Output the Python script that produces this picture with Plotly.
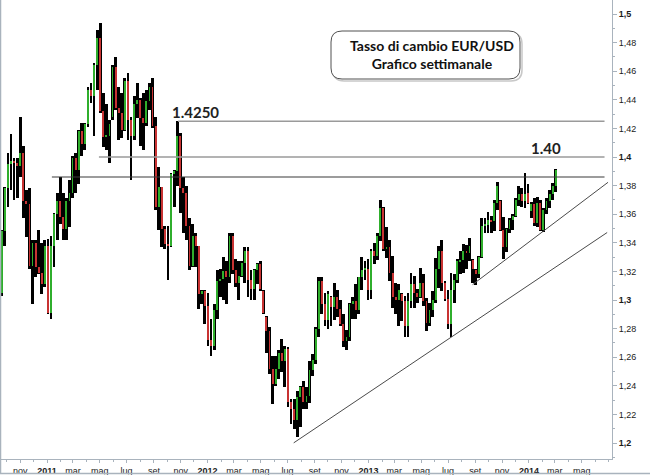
import numpy as np
import pandas as pd
import plotly.graph_objects as go

# ---------------- data: weekly EUR/USD bars -------------
first_week = "2010-09-20"

opens = [
    1.3050, 1.3480, 1.3780, 1.3950, 1.3970, 1.3960, 1.3940, 1.4030, 1.3690, 1.3670,
    1.3240, 1.3400, 1.3230, 1.3190, 1.3110, 1.3380, 1.2910, 1.3380, 1.3600, 1.3690,
    1.3580, 1.3500, 1.3690, 1.3750, 1.3990, 1.3910, 1.4180, 1.4090, 1.4230, 1.4470,
    1.4430, 1.4640, 1.4830, 1.4320, 1.4140, 1.4150, 1.4280, 1.4630, 1.4340, 1.4310,
    1.4190, 1.4530, 1.4260, 1.4150, 1.4370, 1.4400, 1.4270, 1.4240, 1.4390, 1.4490,
    1.4220, 1.3650, 1.3790, 1.3500, 1.3390, 1.3380, 1.3880, 1.3900, 1.4150, 1.3780,
    1.3750, 1.3520, 1.3240, 1.3450, 1.3380, 1.3040, 1.3060, 1.2960, 1.2720, 1.2680,
    1.2930, 1.3130, 1.3150, 1.3200, 1.3160, 1.3450, 1.3210, 1.3120, 1.3170, 1.3260,
    1.3340, 1.3140, 1.3080, 1.3210, 1.3250, 1.3060, 1.2880, 1.2780, 1.2520, 1.2410,
    1.2520, 1.2630, 1.2570, 1.2660, 1.2290, 1.2240, 1.2160, 1.2320, 1.2390, 1.2290,
    1.2330, 1.2510, 1.2580, 1.2800, 1.3130, 1.2970, 1.2860, 1.3020, 1.2950, 1.3020,
    1.2940, 1.2830, 1.2710, 1.2740, 1.2970, 1.2990, 1.2930, 1.3160, 1.3210, 1.3220,
    1.3070, 1.3340, 1.3310, 1.3450, 1.3640, 1.3360, 1.3370, 1.3190, 1.3020, 1.3000,
    1.3040, 1.2990, 1.2820, 1.2990, 1.3110, 1.3050, 1.3020, 1.3120, 1.2990, 1.2840,
    1.2930, 1.3000, 1.3220, 1.3340, 1.3120, 1.3010, 1.2830, 1.3070, 1.3140, 1.3270,
    1.3280, 1.3340, 1.3330, 1.3280, 1.3210, 1.3180, 1.3300, 1.3520, 1.3525, 1.3560,
    1.3550, 1.3680, 1.3690, 1.3490, 1.3370, 1.3500, 1.3560, 1.3590, 1.3700, 1.3740,
    1.3690, 1.3750, 1.3620, 1.3670, 1.3540, 1.3680, 1.3490, 1.3630, 1.3690, 1.3740,
    1.3800,
]
highs = [
    1.3490, 1.3790, 1.4030, 1.4160, 1.3990, 1.3990, 1.4280, 1.4080, 1.3770, 1.3780,
    1.3420, 1.3420, 1.3490, 1.3400, 1.3420, 1.3430, 1.3450, 1.3610, 1.3750, 1.3860,
    1.3750, 1.3710, 1.3840, 1.4010, 1.4030, 1.4190, 1.4240, 1.4240, 1.4490, 1.4520,
    1.4660, 1.4890, 1.4940, 1.4450, 1.4370, 1.4260, 1.4640, 1.4700, 1.4490, 1.4450,
    1.4550, 1.4590, 1.4280, 1.4430, 1.4520, 1.4410, 1.4450, 1.4470, 1.4520, 1.4550,
    1.4280, 1.3930, 1.3790, 1.3520, 1.3520, 1.3890, 1.3910, 1.4250, 1.4170, 1.3860,
    1.3800, 1.3570, 1.3530, 1.3470, 1.3380, 1.3070, 1.3070, 1.3050, 1.2870, 1.2970,
    1.3210, 1.3220, 1.3300, 1.3270, 1.3470, 1.3470, 1.3290, 1.3270, 1.3270, 1.3370,
    1.3370, 1.3210, 1.3220, 1.3260, 1.3270, 1.3070, 1.2890, 1.2810, 1.2610, 1.2610,
    1.2650, 1.2730, 1.2680, 1.2670, 1.2310, 1.2310, 1.2365, 1.2400, 1.2435, 1.2390,
    1.2575, 1.2620, 1.2810, 1.3160, 1.3160, 1.3050, 1.3060, 1.3030, 1.3120, 1.3070,
    1.3000, 1.2900, 1.2790, 1.2980, 1.3020, 1.3115, 1.3160, 1.3300, 1.3270, 1.3290,
    1.3360, 1.3400, 1.3470, 1.3700, 1.3648, 1.3510, 1.3420, 1.3310, 1.3120, 1.3110,
    1.3050, 1.3030, 1.3050, 1.3190, 1.3170, 1.3075, 1.3226, 1.3180, 1.3017, 1.2980,
    1.3060, 1.3297, 1.3380, 1.3420, 1.3130, 1.3070, 1.3190, 1.3180, 1.3290, 1.3340,
    1.3395, 1.3385, 1.3437, 1.3290, 1.3215, 1.3310, 1.3570, 1.3570, 1.3612, 1.3590,
    1.3697, 1.3823, 1.3697, 1.3577, 1.3505, 1.3570, 1.3600, 1.3710, 1.3800, 1.3780,
    1.3890, 1.3810, 1.3683, 1.3710, 1.3720, 1.3697, 1.3640, 1.3710, 1.3767, 1.3820,
    1.3914,
]
lows = [
    1.3030, 1.3380, 1.3650, 1.3770, 1.3700, 1.3710, 1.3860, 1.3570, 1.3440, 1.3220,
    1.2970, 1.3160, 1.3180, 1.3040, 1.3090, 1.2900, 1.2870, 1.3230, 1.3420, 1.3530,
    1.3420, 1.3420, 1.3510, 1.3710, 1.3750, 1.3810, 1.4010, 1.4050, 1.4210, 1.4380,
    1.4150, 1.4470, 1.4310, 1.4070, 1.4050, 1.3960, 1.4260, 1.4330, 1.4120, 1.4130,
    1.4180, 1.4120, 1.3840, 1.4120, 1.4270, 1.4080, 1.4050, 1.4220, 1.4330, 1.4200,
    1.3630, 1.3490, 1.3370, 1.3360, 1.3140, 1.3370, 1.3650, 1.3800, 1.3610, 1.3470,
    1.3420, 1.3210, 1.3230, 1.3230, 1.2940, 1.2970, 1.2830, 1.2680, 1.2610, 1.2650,
    1.2870, 1.3020, 1.3000, 1.2970, 1.3120, 1.3180, 1.3090, 1.3000, 1.3160, 1.3120,
    1.3020, 1.3000, 1.3000, 1.3110, 1.3060, 1.2900, 1.2630, 1.2480, 1.2270, 1.2400,
    1.2450, 1.2500, 1.2390, 1.2250, 1.2130, 1.2100, 1.2040, 1.2110, 1.2240, 1.2240,
    1.2280, 1.2470, 1.2550, 1.2740, 1.2900, 1.2820, 1.2800, 1.2820, 1.2860, 1.2880,
    1.2820, 1.2670, 1.2650, 1.2715, 1.2870, 1.2870, 1.2900, 1.3070, 1.3140, 1.3000,
    1.3010, 1.3255, 1.3280, 1.3416, 1.3346, 1.3297, 1.3136, 1.2947, 1.2905, 1.2820,
    1.2855, 1.2740, 1.2740, 1.2947, 1.2947, 1.2980, 1.3017, 1.2960, 1.2786, 1.2820,
    1.2880, 1.2980, 1.3087, 1.3060, 1.2990, 1.2800, 1.2740, 1.2980, 1.3120, 1.3180,
    1.3190, 1.3220, 1.3276, 1.3120, 1.3105, 1.3157, 1.3297, 1.3466, 1.3470, 1.3470,
    1.3486, 1.3626, 1.3480, 1.3290, 1.3335, 1.3470, 1.3490, 1.3580, 1.3660, 1.3650,
    1.3640, 1.3670, 1.3570, 1.3520, 1.3510, 1.3486, 1.3474, 1.3600, 1.3640, 1.3697,
    1.3753,
]
closes = [
    1.3480, 1.3780, 1.3950, 1.3970, 1.3960, 1.3940, 1.4030, 1.3690, 1.3670, 1.3240,
    1.3400, 1.3230, 1.3190, 1.3110, 1.3380, 1.2910, 1.3380, 1.3600, 1.3690, 1.3580,
    1.3500, 1.3690, 1.3750, 1.3990, 1.3910, 1.4180, 1.4090, 1.4230, 1.4470, 1.4430,
    1.4640, 1.4830, 1.4320, 1.4140, 1.4150, 1.4230, 1.4630, 1.4340, 1.4310, 1.4190,
    1.4530, 1.4260, 1.4150, 1.4370, 1.4400, 1.4270, 1.4240, 1.4390, 1.4490, 1.4220,
    1.3650, 1.3790, 1.3500, 1.3390, 1.3380, 1.3880, 1.3900, 1.4150, 1.3780, 1.3750,
    1.3520, 1.3240, 1.3450, 1.3380, 1.3040, 1.3060, 1.2960, 1.2720, 1.2680, 1.2930,
    1.3130, 1.3150, 1.3200, 1.3160, 1.3450, 1.3210, 1.3120, 1.3170, 1.3260, 1.3340,
    1.3140, 1.3080, 1.3210, 1.3250, 1.3080, 1.2910, 1.2780, 1.2520, 1.2410, 1.2520,
    1.2630, 1.2570, 1.2660, 1.2290, 1.2240, 1.2160, 1.2320, 1.2390, 1.2290, 1.2330,
    1.2510, 1.2580, 1.2800, 1.3130, 1.2970, 1.2860, 1.3040, 1.2950, 1.3020, 1.2940,
    1.2830, 1.2710, 1.2740, 1.2970, 1.2990, 1.2930, 1.3160, 1.3210, 1.3220, 1.3070,
    1.3340, 1.3310, 1.3450, 1.3640, 1.3360, 1.3370, 1.3190, 1.3020, 1.3000, 1.3070,
    1.2990, 1.2820, 1.2990, 1.3110, 1.3050, 1.3020, 1.3120, 1.2990, 1.2840, 1.2930,
    1.3000, 1.3220, 1.3340, 1.3120, 1.3010, 1.2830, 1.3070, 1.3140, 1.3270, 1.3280,
    1.3340, 1.3330, 1.3380, 1.3220, 1.3180, 1.3300, 1.3520, 1.3525, 1.3560, 1.3550,
    1.3680, 1.3800, 1.3490, 1.3370, 1.3500, 1.3560, 1.3590, 1.3700, 1.3740, 1.3690,
    1.3740, 1.3680, 1.3670, 1.3540, 1.3680, 1.3490, 1.3630, 1.3690, 1.3740, 1.3800,
    1.3910,
]

# analyst drawings
level_values = [1.4250, 1.4000, 1.3860]
level_starts = ["2011-10-26", "2011-04-29", "2011-01-12"]
level_end = "2014-06-22"
trend_low_dates = ["2012-07-15", "2014-06-28"]
trend_low_values = [1.2001, 1.3472]
trend_up_dates = ["2013-08-26", "2014-06-30"]
trend_up_values = [1.3108, 1.3823]

# axis labels
x_tick_dates = ["2010-11-01", "2011-01-01", "2011-03-01", "2011-05-01", "2011-07-01",
                "2011-09-01", "2011-11-01", "2012-01-01", "2012-03-01", "2012-05-01",
                "2012-07-01", "2012-09-01", "2012-11-01", "2013-01-01", "2013-03-01",
                "2013-05-01", "2013-07-01", "2013-09-01", "2013-11-01", "2014-01-01",
                "2014-03-01", "2014-05-01"]
x_tick_labels = ["nov", "<b>2011</b>", "mar", "mag", "lug", "set", "nov", "<b>2012</b>",
                 "mar", "mag", "lug", "set", "nov", "<b>2013</b>", "mar", "mag", "lug",
                 "set", "nov", "<b>2014</b>", "mar", "mag"]
y_tick_values = [1.20, 1.22, 1.24, 1.26, 1.28, 1.30, 1.32, 1.34, 1.36, 1.38,
                 1.40, 1.42, 1.44, 1.46, 1.48, 1.50]
y_tick_labels = ["<b>1,2</b>", "1,22", "1,24", "1,26", "1,28", "<b>1,3</b>", "1,32", "1,34",
                 "1,36", "1,38", "<b>1,4</b>", "1,42", "1,44", "1,46", "1,48", "<b>1,5</b>"]

# ---------------- figure ----------------
W, H = 650, 475
L, R, T, B = 0, 38, 0, 16
PW, PH = W - L - R, H - T - B

o = np.array(opens); h = np.array(highs); l = np.array(lows); c = np.array(closes)
dates = pd.date_range(first_week, periods=len(c), freq="7D")
DAY = 86400000

GREEN = "#2fae2c"
RED = "#c83333"
body_colors = [GREEN if cc >= oo else RED for oo, cc in zip(o, c)]

fig = go.Figure()
fig.add_trace(go.Bar(
    x=dates, y=h - l, base=l, width=6.4 * DAY,
    marker=dict(color="#000000", line=dict(width=0)),
    hoverinfo="skip", showlegend=False))
fig.add_trace(go.Bar(
    x=dates, y=np.maximum(np.abs(c - o), 0.0004), base=np.minimum(o, c), width=2.0 * DAY,
    marker=dict(color=body_colors, line=dict(width=0)),
    hoverinfo="skip", showlegend=False))

level_colors = ["#9a9a9a", "#9a9a9a", "#3a3a3a"]
level_widths = [1.6, 1.6, 1.1]
for v, s, col, wd in zip(level_values, level_starts, level_colors, level_widths):
    fig.add_trace(go.Scatter(x=[s, level_end], y=[v, v], mode="lines",
                             line=dict(color=col, width=wd), hoverinfo="skip",
                             showlegend=False))
for xs, ys in [(trend_low_dates, trend_low_values), (trend_up_dates, trend_up_values)]:
    fig.add_trace(go.Scatter(x=xs, y=ys, mode="lines",
                             line=dict(color="#4a4a4a", width=1), hoverinfo="skip",
                             showlegend=False))

# pixel -> paper helpers
def px(xp):
    return (xp - L) / PW

def py(yp):
    return 1 - (yp - T) / PH

def rounded_rect(x0, y0, x1, y1, r):
    rx, ry = r / PW, r / PH
    X0, X1, Y0, Y1 = px(x0), px(x1), py(y0), py(y1)
    return (f"M {X0+rx},{Y0} L {X1-rx},{Y0} Q {X1},{Y0} {X1},{Y0-ry} "
            f"L {X1},{Y1+ry} Q {X1},{Y1} {X1-rx},{Y1} L {X0+rx},{Y1} "
            f"Q {X0},{Y1} {X0},{Y1+ry} L {X0},{Y0-ry} Q {X0},{Y0} {X0+rx},{Y0} Z")

shapes = [
    dict(type="path", xref="paper", yref="paper", path=rounded_rect(333, 33, 522, 81, 11),
         line=dict(color="#c8c8c8", width=1.5), fillcolor="rgba(0,0,0,0)", layer="above"),
    dict(type="path", xref="paper", yref="paper", path=rounded_rect(331, 31, 520, 79, 11),
         line=dict(color="#505050", width=1), fillcolor="#ffffff", layer="above"),
    # outer frame (left and bottom)
    dict(type="line", xref="paper", yref="paper", x0=px(0.5), x1=px(0.5), y0=py(0), y1=py(474),
         line=dict(color="#a9b3bd", width=1.5)),
    dict(type="line", xref="paper", yref="paper", x0=px(0), x1=px(650), y0=py(473.5), y1=py(473.5),
         line=dict(color="#a9b3bd", width=1.5)),
]

annotations = [
    dict(xref="paper", yref="paper", x=px(432), y=py(55), showarrow=False,
         text="<b>Tasso di cambio EUR/USD</b><br><b>Grafico settimanale</b>",
         font=dict(family="Lato, Liberation Sans, sans-serif", size=14, color="#111111"),
         align="center", xanchor="center", yanchor="middle"),
    dict(xref="paper", yref="paper", x=px(195), y=py(112), showarrow=False,
         text="<b>1.4250</b>", font=dict(family="Lato, Liberation Sans, sans-serif", size=15,
                                         color="#222222"),
         xanchor="center", yanchor="middle"),
    dict(xref="paper", yref="paper", x=px(546), y=py(148), showarrow=False,
         text="<b>1.40</b>", font=dict(family="Lato, Liberation Sans, sans-serif", size=15,
                                       color="#222222"),
         xanchor="center", yanchor="middle"),
]

# axis ranges from pixel calibration (Jan 1 2011 at x=48, 160.3 px/year; 1.5 at y=14, 1.2 at y=443)
x_start = pd.Timestamp("2010-09-16")
x_end = pd.Timestamp("2014-07-09")
ppu = (443 - 14) / 0.3
y_top = 1.5 + (14 - T) / ppu
y_bot = 1.2 - (T + PH - 443) / ppu

fig.update_layout(
    width=W, height=H,
    margin=dict(l=L, r=R, t=T, b=B, pad=0),
    paper_bgcolor="#ffffff", plot_bgcolor="#ffffff",
    barmode="overlay", bargap=0,
    showlegend=False,
    shapes=shapes, annotations=annotations,
    font=dict(family="Liberation Sans, Arial, sans-serif", size=9, color="#1a1a1a"),
    xaxis=dict(range=[x_start, x_end], type="date", showgrid=False, zeroline=False,
               showline=True, linecolor="#a9b3bd", linewidth=1,
               tickmode="array", tickvals=x_tick_dates, ticktext=x_tick_labels,
               ticks="outside", ticklen=3, tickcolor="#a9b3bd",
               tickfont=dict(size=9, color="#1a1a1a"), automargin=False,
               minor=dict(dtick="M1", tick0="2010-11-01", ticks="outside", ticklen=2,
                          tickcolor="#a9b3bd", showgrid=False)),
    yaxis=dict(range=[y_bot, y_top], side="right", showgrid=False, zeroline=False,
               showline=True, linecolor="#a9b3bd", linewidth=1,
               tickmode="array", tickvals=y_tick_values, ticktext=y_tick_labels,
               ticks="outside", ticklen=4, tickcolor="#a9b3bd",
               tickfont=dict(size=9, color="#1a1a1a"), automargin=False,
               minor=dict(dtick=0.01, tick0=1.2, ticks="outside", ticklen=2,
                          tickcolor="#a9b3bd", showgrid=False)),
)

fig.write_html("out.html", config={"displayModeBar": False},
               post_script="document.body.style.margin='0';document.body.style.overflow='hidden';")
